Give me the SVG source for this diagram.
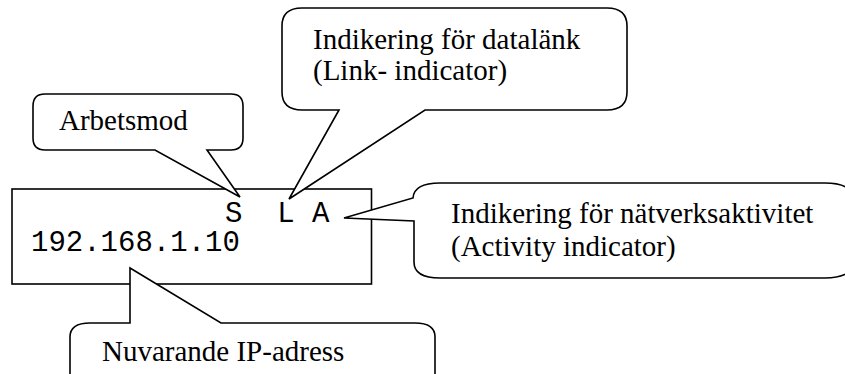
<svg xmlns="http://www.w3.org/2000/svg" width="845" height="374" viewBox="0 0 845 374">
<style>
.shape{fill:#fff;stroke:#000;stroke-width:1.6;stroke-linejoin:miter}
.serif{font-family:"Liberation Serif","Times New Roman",serif;font-size:29px;fill:#000}
.mono{font-family:"Liberation Mono","Courier New",monospace;font-size:29px;fill:#000}
</style>
<rect width="845" height="374" fill="#fff"/>
<g id="display">
<rect class="shape" x="12" y="189" width="359.5" height="95"/>
<text class="mono" x="225" y="222" xml:space="preserve">S  L A</text>
<text class="mono" x="31" y="251">192.168.1.10</text>
</g>
<g id="arbetsmod">
<path class="shape" d="M45,94 H231 Q243,94 243,106 V138 Q243,150 231,150 H207 L240,197 L155,150 H45 Q33,150 33,138 V106 Q33,94 45,94 Z"/>
<text class="serif" x="59" y="130">Arbetsmod</text>
</g>
<g id="link-indicator">
<path class="shape" d="M302,8 H607 Q627,8 627,26 V92 Q627,110 607,110 H425 L289,199 L339,110 H302 Q282,110 282,92 V26 Q282,8 302,8 Z"/>
<text class="serif" x="313" y="49">Indikering för datalänk</text>
<text class="serif" x="313" y="80">(Link- indicator)</text>
</g>
<g id="activity-indicator">
<path class="shape" d="M440,183 H825 Q855,183 855,203 V258 Q855,278 825,278 H440 Q414,278 414,262 V221 L344,218 L413,198 Q414,183 440,183 Z"/>
<text class="serif" x="451" y="223">Indikering för nätverksaktivitet</text>
<text class="serif" x="451" y="256">(Activity indicator)</text>
</g>
<g id="ip-address">
<path class="shape" d="M90,323 H130 V268 L221,323 H415 Q435,323 435,337 V390 H70 V337 Q70,323 90,323 Z"/>
<text class="serif" x="102" y="361">Nuvarande IP-adress</text>
</g>
</svg>
